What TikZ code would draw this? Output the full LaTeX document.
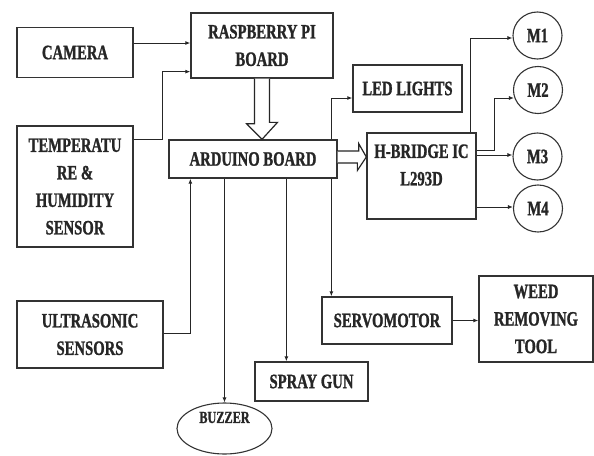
\documentclass[tikz,border=0pt]{standalone}
\usepackage{fontspec}
\newfontfamily\dfont{Liberation Serif Bold}[FakeStretch=0.72, FakeBold=1.2]
\usetikzlibrary{arrows.meta,shapes.geometric,calc}
\begin{document}
\begin{tikzpicture}[x=1pt,y=-1pt,
  txt/.style={align=center, font=\dfont\fontsize{20.4}{27.5}\selectfont, text=black!85},
  box/.style={txt, draw=black!80, line width=1.3pt, inner sep=0pt},
  circ/.style={txt, ellipse, draw=black!80, line width=1.1pt, inner sep=0pt, minimum width=49pt, minimum height=47pt},
  arr/.style={draw=black!85, line width=1pt, -{Latex[length=5pt,width=4pt]}},
  hollow/.style={draw=black!85, line width=1.2pt, fill=white, line join=miter}]
\useasboundingbox (0,0) rectangle (594,455);
\fill[white] (0,0) rectangle (594,455);

\node[box, minimum width=116pt, minimum height=50pt] (cam) at (75,52.5) {CAMERA};
\node[box, minimum width=142pt, minimum height=65pt] (rpi) at (262,45.5) {RASPBERRY PI\\BOARD};
\node[box, minimum width=116pt, minimum height=121pt] (temp) at (75,186.5) {TEMPERATU\\RE \&\\HUMIDITY\\SENSOR};
\node[box, minimum width=146pt, minimum height=67pt] (ultra) at (90,334.5) {ULTRASONIC\\SENSORS};
\node[box, minimum width=168pt, minimum height=38pt] (ard) at (253,159) {ARDUINO BOARD};
\node[box, minimum width=109pt, minimum height=47pt] (led) at (407.5,88.5) {LED LIGHTS};
\node[box, minimum width=109pt, minimum height=86pt,
  label={[txt, yshift=11pt]center:H-BRIDGE IC\\L293D}] (hb) at (421.5,176) {};
\node[circ] (m1) at (537.5,35.5) {M1};
\node[circ] (m2) at (538,90) {M2};
\node[circ] (m3) at (537.5,156.5) {M3};
\node[circ] (m4) at (538,208.5) {M4};
\node[box, minimum width=130pt, minimum height=47pt] (servo) at (387,320.5) {SERVOMOTOR};
\node[box, minimum width=114pt, minimum height=86pt] (weed) at (536,319) {WEED\\REMOVING\\TOOL};
\node[box, minimum width=113pt, minimum height=39pt] (spray) at (311.5,381.5) {SPRAY GUN};
\node[ellipse, draw=black!80, line width=1.1pt, inner sep=0pt, minimum width=95pt, minimum height=51pt,
  label={[txt, font=\dfont\fontsize{17}{20}\selectfont, yshift=11pt]center:BUZZER}] (buz) at (224.5,428.5) {};

% inputs to Raspberry Pi
\draw[arr] (cam.east |- {$(rpi.west)+(0,-2.5)$}) -- ($(rpi.west)+(0,-2.5)$);
\draw[arr] ($(temp.north east)+(0,14)$) -- ++(29,0) |- ($(rpi.south west)+(0,-7)$);

% Raspberry -> Arduino (hollow)
\draw[hollow] ($(rpi.south)+(-7.5,0)$) -- ++(0,45) -- ++(-8,0) -- (rpi.south |- ard.north)
  -- ++(15.5,-17) -- ++(-8,0) -- ($(rpi.south)+(7.5,0)$);

% Arduino -> H-bridge (hollow)
\draw[hollow] ($(ard.east)+(0,-8)$) -- ++(21,0) -- ++(0,-7.5) -- ($(hb.west |- ard.east)+(0,-2)$)
  -- ++(-9,13.5) -- ++(0,-7.5) -- ($(ard.east)+(0,4)$);

% ultrasonic -> Arduino
\draw[arr] ($(ultra.east)+(0,-1.5)$) -| ($(ard.south west)+(22,0)$);

% Arduino -> buzzer, spray gun
\draw[arr] (buz.north |- ard.south) -- (buz.north);
\draw[arr] ($(ard.south west)+(118,0)$) -- ($(spray.north west)+(32,0)$);

% Arduino -> LED and servo
\draw[arr] ($(ard.north west)+(163,0)$) |- ($(led.west)+(0,9.5)$);
\draw[arr] ($(ard.south west)+(163,0)$) -- ($(servo.north west)+(10,0)$);

% servo -> weed
\draw[arr] (servo.east) -- (servo.east -| weed.west);

% H-bridge -> motors
\draw[arr] ($(hb.north east)+(-6,0)$) |- ($(m1.west)+(0,2.5)$);
\draw[arr] ($(hb.east)+(0,-26)$) -- ++(18,0) |- ($(m2.west)+(1,8)$);
\draw[arr] ($(hb.east)+(0,-21)$) -- ($(hb.east -| m3.west)+(0,-21)$);
\draw[arr] ($(hb.east)+(0,31)$) -- ($(hb.east -| m4.west)+(0,31)$);
\end{tikzpicture}
\end{document}
